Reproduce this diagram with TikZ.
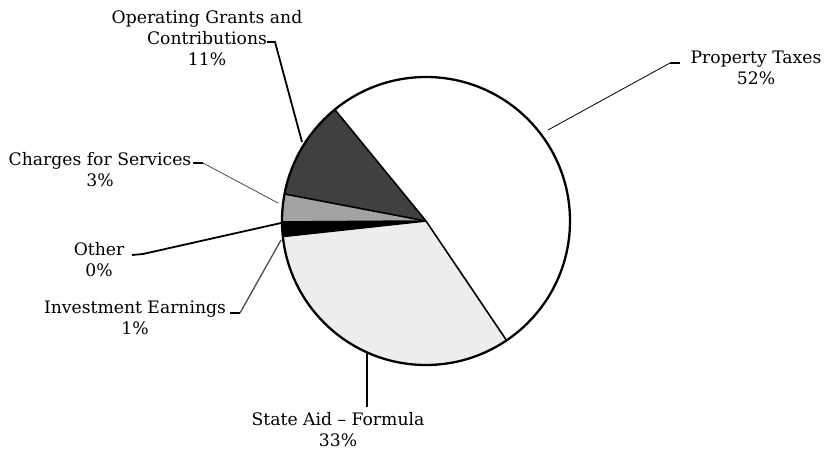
\documentclass[tikz,border=0pt]{standalone}
\usepackage{fontspec}
\setmainfont{DejaVu Serif}
\definecolor{opgray}{gray}{0.25}
\definecolor{chgray}{gray}{0.64}
\definecolor{stgray}{gray}{0.93}
\definecolor{leadgray}{gray}{0.3}
\begin{document}
\begin{tikzpicture}[x=1pt,y=1pt,
  lbl/.style={align=center,font=\fontsize{17.2}{21}\selectfont,inner sep=0pt},
  heavylead/.style={line width=1.8pt,black},
  thinlead/.style={line width=0.8pt,black},
  midlead/.style={line width=1.3pt,leadgray},
  sliceedge/.style={line width=1.6pt,black}]
\useasboundingbox (0,0) rectangle (829,-454);
\coordinate (C) at (426,-221);
% slices
\fill[white]  (C) -- ++(-56:144pt) arc[start angle=-56,end angle=129.3,radius=144pt] -- cycle;
\fill[opgray] (C) -- ++(129.3:144pt) arc[start angle=129.3,end angle=169.2,radius=144pt] -- cycle;
\fill[chgray] (C) -- ++(169.2:144pt) arc[start angle=169.2,end angle=180.4,radius=144pt] -- cycle;
\fill[black]  (C) -- ++(180.4:144pt) arc[start angle=180.4,end angle=186.2,radius=144pt] -- cycle;
\fill[stgray] (C) -- ++(186.2:144pt) arc[start angle=186.2,end angle=304,radius=144pt] -- cycle;
\draw[sliceedge] (C) -- ++(-56:144pt);
\draw[sliceedge] (C) -- ++(129.3:144pt);
\draw[sliceedge] (C) -- ++(169.2:144pt);
\draw[sliceedge] (C) -- ++(180.4:144pt);
\draw[sliceedge] (C) -- ++(186.2:144pt);
\draw[line width=2.3pt] (C) circle[radius=144pt];
% labels
\node[lbl] (prop) at (756,-68) {Property Taxes\\52\%};
\node[lbl] (oper) at (207,-38) {Operating Grants and\\Contributions\\11\%};
\node[lbl] (chg) at (100,-170) {Charges for Services\\3\%};
\node[lbl] (oth) at (99,-260) {Other\\0\%};
\node[lbl] (inv) at (135,-318) {Investment Earnings\\1\%};
\node[lbl] (sta) at (338,-430) {State Aid -- Formula\\33\%};
% leader coordinates
\coordinate (propS) at (680,-63);
\coordinate (propK) at (670,-63);
\coordinate (propE) at (548,-130);
\coordinate (operS) at (267,-42);
\coordinate (operK) at (275,-42);
\coordinate (operE) at (302,-142);
\coordinate (chgS) at (193,-163);
\coordinate (chgK) at (203,-163);
\coordinate (chgE) at (278,-203);
\coordinate (othS) at (132,-255);
\coordinate (othK) at (143,-254);
\coordinate (othE) at (281,-223);
\coordinate (invS) at (230,-313);
\coordinate (invK) at (240,-313);
\coordinate (invE) at (281,-240);
\coordinate (staS) at (367,-353);
\coordinate (staE) at (367,-407);
% leaders
\draw[heavylead] (propS) -- (propK);
\draw[thinlead] (propK) -- (propE);
\draw[heavylead] (operS) -- (operK) -- (operE);
\draw[heavylead] (chgS) -- (chgK);
\draw[thinlead,leadgray] (chgK) -- (chgE);
\draw[heavylead] (othS) -- (othK) -- (othE);
\draw[heavylead] (invS) -- (invK);
\draw[midlead] (invK) -- (invE);
\draw[line width=1.5pt] (staS) -- (staE);
\end{tikzpicture}
\end{document}
